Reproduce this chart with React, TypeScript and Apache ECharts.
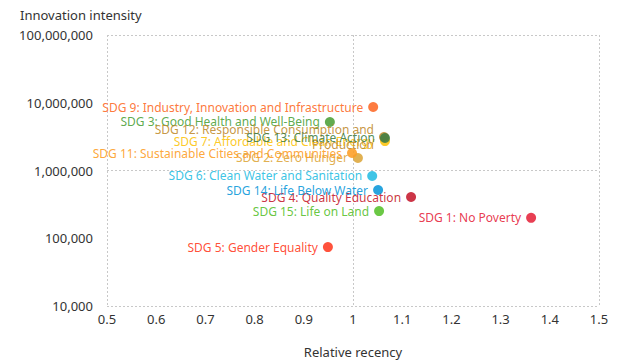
import React, { useEffect, useRef } from "react";
import * as echarts from "echarts";

const sdgNames = [
  "SDG 1: No Poverty",
  "SDG 5: Gender Equality",
  "SDG 4: Quality Education",
  "SDG 15: Life on Land",
  "SDG 14: Life Below Water",
  "SDG 6: Clean Water and Sanitation",
  "SDG 2: Zero Hunger",
  "SDG 11: Sustainable Cities and Communities",
  "SDG 3: Good Health and Well-Being",
  "SDG 9: Industry, Innovation and Infrastructure",
  "SDG 7: Affordable and Clean Energy",
  "SDG 12: Responsible Consumption and\nProduction",
  "SDG 13: Climate Action",
];
const relativeRecency = [1.362, 0.949, 1.118, 1.053, 1.051, 1.039, 1.01, 0.998, 0.953, 1.041, 1.065, 1.063, 1.065];
const innovationIntensity = [200000, 74000, 406000, 252000, 515000, 830000, 1530000, 1810000, 5200000, 8650000, 2720000, 3120000, 3020000];
const sdgColors = [
  "#E5243B", "#FF3A21", "#C5192D", "#56C02B", "#0A97D9", "#26BDE2", "#DDA63A",
  "#FD9D24", "#4C9F38", "#FD6925", "#FCC30B", "#BF8B2E", "#3F7E44",
];
const yTickLabels = ["10,000", "100,000", "1,000,000", "10,000,000", "100,000,000"];

export default function App() {
  const ref = useRef<HTMLDivElement>(null);
  useEffect(() => {
    document.body.style.margin = "0";
    if (!ref.current) return;
    const chart = echarts.init(ref.current, null, { renderer: "svg" });
    const font = "'Noto Sans', sans-serif";
    const gridLine = { show: true, lineStyle: { color: "#c8c8c8", type: [2, 2] as any, width: 1 } };
    chart.setOption({
      animation: false,
      textStyle: { fontFamily: font },
      grid: { left: 107, right: 21, top: 35, bottom: 57, outerBoundsMode: "none", containLabel: false },
      xAxis: [
        {
          type: "value",
          min: 0.5,
          max: 1.5,
          interval: 0.1,
          name: "Relative recency",
          nameLocation: "middle",
          nameGap: 39,
          nameTextStyle: { color: "#333", fontSize: 13, fontFamily: font },
          axisLine: { show: false },
          axisTick: { show: false },
          splitLine: { show: false },
          axisLabel: {
            color: "#333",
            fontSize: 13,
            fontFamily: font,
            margin: 6,
            formatter: (v: number) => String(Math.round(v * 10) / 10),
          },
        },
        {
          type: "value",
          position: "top",
          min: 0.5,
          max: 1.5,
          interval: 0.5,
          axisLine: { show: false },
          axisTick: { show: false },
          axisLabel: { show: false },
          splitLine: gridLine,
        },
      ],
      yAxis: [
        {
          type: "log",
          logBase: 10,
          min: 10000,
          max: 100000000,
          name: "Innovation intensity",
          nameLocation: "end",
          nameGap: 14,
          nameTextStyle: { color: "#333", fontSize: 13, fontFamily: font, align: "left", padding: [0, 0, 0, -87] },
          axisLine: { show: false },
          axisTick: { show: false },
          splitLine: { show: false },
          axisLabel: {
            color: "#333",
            fontSize: 13,
            fontFamily: font,
            margin: 14,
            formatter: (v: number) => {
              const i = Math.round(Math.log10(v)) - 4;
              return yTickLabels[i] ?? String(v);
            },
          },
        },
        {
          type: "log",
          logBase: 100,
          min: 10000,
          max: 100000000,
          position: "right",
          axisLine: { show: false },
          axisTick: { show: false },
          axisLabel: { show: false },
          splitLine: gridLine,
        },
      ],
      series: [
        {
          type: "scatter",
          xAxisIndex: 0,
          yAxisIndex: 0,
          symbolSize: 10,
          data: sdgNames.map((n, i) => ({
            name: n,
            value: [relativeRecency[i], innovationIntensity[i]],
            itemStyle: { color: sdgColors[i], opacity: 0.88 },
            label: {
              show: true,
              position: "left",
              distance: 5,
              formatter: n,
              color: sdgColors[i],
              opacity: 0.9,
              fontSize: 12,
              fontFamily: font,
              lineHeight: 15,
            },
          })),
        },
      ],
    });
    return () => chart.dispose();
  }, []);
  return <div ref={ref} style={{ width: 620, height: 363 }} />;
}
